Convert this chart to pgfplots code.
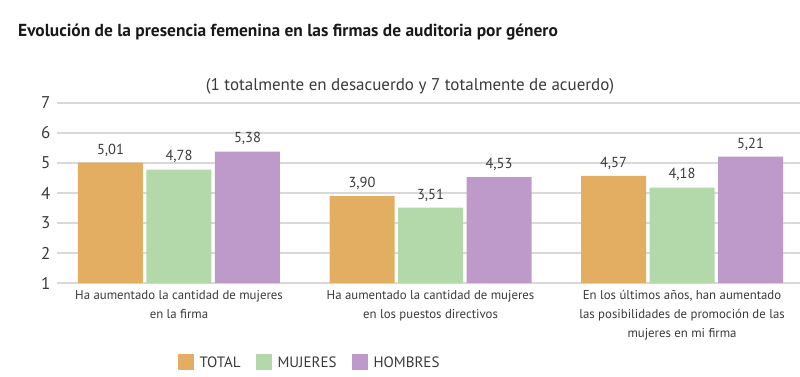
\documentclass[border=0pt]{standalone}
\usepackage{pgfplots}
\pgfplotsset{compat=1.18}
\usepackage{fontspec}
\setmainfont{PT Sans}
\definecolor{cTot}{HTML}{E3AE62}
\definecolor{cMuj}{HTML}{B3D8A9}
\definecolor{cHom}{HTML}{BE9ACA}
\definecolor{txt}{HTML}{3A3A3A}
\definecolor{gridc}{HTML}{D9D9D9}
\begin{document}
\begin{tikzpicture}[x=1pt,y=1pt]
\useasboundingbox (0,0) rectangle (800,376);
\node[anchor=west,font=\fontsize{17.4}{18}\selectfont\bfseries,text=black!90,inner sep=0] at (18,344) {Evolución de la presencia femenina en las firmas de auditoria por género};
\node[font=\fontsize{17}{18}\selectfont,text=txt,inner sep=0] at (410,290) {(1 totalmente en desacuerdo y 7 totalmente de acuerdo)};
\begin{axis}[
  at={(57pt,93pt)}, anchor=south west,
  scale only axis, width=743pt, height=180pt,
  xmin=-0.485, xmax=2.469, ymin=1, ymax=7,
  ytick={1,2,3,4,5,6,7},
  xtick={0,1,2},
  xticklabels={{Ha aumentado la cantidad de mujeres\\en la firma},{Ha aumentado la cantidad de mujeres\\en los puestos directivos},{En los últimos años, han aumentado\\las posibilidades de promoción de las\\mujeres en mi firma}},
  xticklabel style={align=center, font=\fontsize{12.8}{19}\selectfont, text=txt, yshift=-4pt},
  yticklabel style={font=\fontsize{17}{18}\selectfont, text=txt, xshift=-3pt},
  /pgf/number format/assume math mode=true,
  major tick length=0pt,
  axis line style={draw=none},
  ymajorgrids, grid style={gridc, line width=1.2pt},
  ybar, bar width=65pt,
  nodes near coords,
  nodes near coords style={font=\fontsize{14.5}{16}\selectfont, text=txt, yshift=3pt, /pgf/number format/fixed, /pgf/number format/fixed zerofill, /pgf/number format/precision=2, /pgf/number format/use comma, /pgf/number format/assume math mode=true},
  legend columns=3,
  legend style={draw=none, fill=none, at={(axis description cs:0.158,-0.44)}, anchor=west, font=\fontsize{15}{16}\selectfont, text=txt, /tikz/every odd column/.append style={column sep=4pt}, /tikz/every even column/.append style={column sep=13pt}},
  legend image code/.code={\fill[#1,draw=none] (0pt,-7pt) rectangle (16pt,9pt);},
]
\addplot[fill=cTot, draw=none, bar shift=-68.5pt] coordinates {(0,5.01) (1,3.90) (2,4.57)};
\addplot[fill=cMuj, draw=none, bar shift=0pt] coordinates {(0,4.78) (1,3.51) (2,4.18)};
\addplot[fill=cHom, draw=none, bar shift=68.5pt] coordinates {(0,5.38) (1,4.53) (2,5.21)};
\legend{TOTAL, MUJERES, HOMBRES}
\end{axis}
\end{tikzpicture}
\end{document}
